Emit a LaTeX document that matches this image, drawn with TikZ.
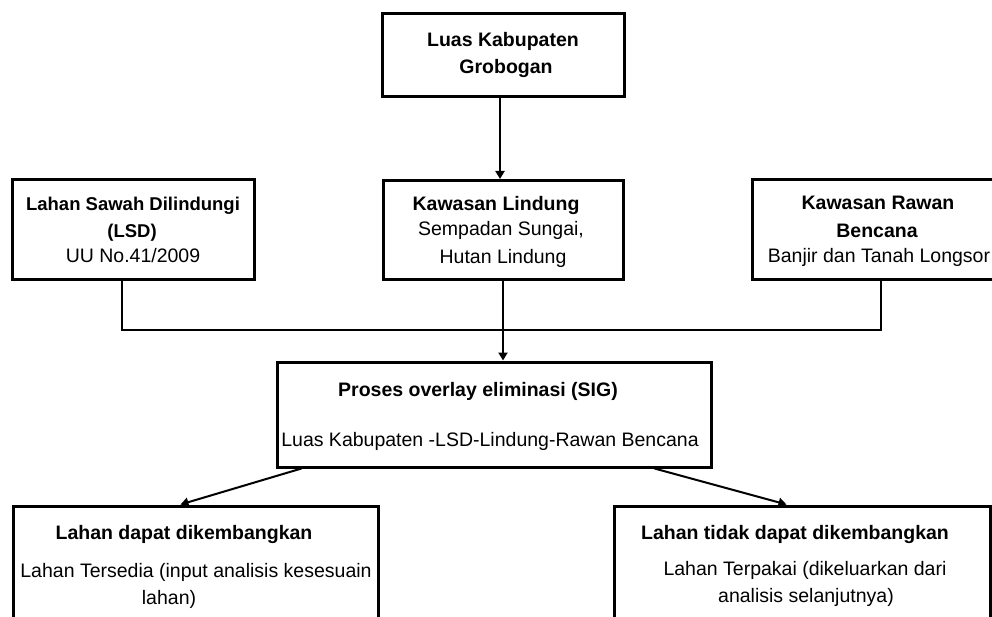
\documentclass[tikz,border=0pt]{standalone}
\usepackage{fontspec}
\setmainfont{Liberation Sans}
\usetikzlibrary{arrows.meta}
\begin{document}
\begin{tikzpicture}[x=1pt,y=-1pt,
  boxst/.style={draw=black,line width=3pt,rectangle,inner sep=0pt,fill=white},
  txt/.style={inner sep=0pt,anchor=base,font=\fontsize{19.5}{24}\selectfont},
  btxt/.style={inner sep=0pt,anchor=base,font=\fontsize{19.5}{24}\selectfont\bfseries},
  lsdtxt/.style={inner sep=0pt,anchor=base,font=\fontsize{18.5}{24}\selectfont\bfseries},
  arr/.style={line width=2pt,-{Triangle[length=8pt,width=9pt]}},
  conn/.style={line width=1.6pt}]
\useasboundingbox (0,0) rectangle (992,617);
\clip (0,0) rectangle (992,617);
\fill[white] (0,0) rectangle (992,617);
% boxes
\node[boxst,minimum width=242,minimum height=83] (top) at (503,55.5) {};
\node[boxst,minimum width=242,minimum height=100] (lsd) at (133,230) {};
\node[boxst,minimum width=240,minimum height=99] (lind) at (503,230) {};
\node[boxst,minimum width=258,minimum height=100] (rawan) at (881,230) {};
\node[boxst,minimum width=434,minimum height=105] (proses) at (494,414.5) {};
\node[boxst,minimum width=365,minimum height=134] (lb) at (195.5,573) {};
\node[boxst,minimum width=376,minimum height=134] (rb) at (802,573) {};
% texts
\node[btxt] (t1) at (503,47) {Luas Kabupaten};
\node[btxt] (t2) at (506,74) {Grobogan};
\node[lsdtxt] (s1) at (133,211) {Lahan Sawah Dilindungi};
\node[lsdtxt] (s2) at (132,238) {(LSD)};
\node[txt] (s3) at (133,263) {UU No.41/2009};
\node[btxt] (k1) at (496,211) {Kawasan Lindung};
\node[txt] (k2) at (501,236) {Sempadan Sungai,};
\node[txt] (k3) at (503,264) {Hutan Lindung};
\node[btxt] (r1) at (878,210) {Kawasan Rawan};
\node[btxt] (r2) at (877,238) {Bencana};
\node[txt] (r3) at (879,263) {Banjir dan Tanah Longsor};
\node[btxt] (p1) at (478,396) {Proses overlay eliminasi (SIG)};
\node[txt] (p2) at (490,446) {Luas Kabupaten -LSD-Lindung-Rawan Bencana};
\node[btxt] (a1) at (184,539) {Lahan dapat dikembangkan};
\node[txt] (a2) at (196,577) {Lahan Tersedia (input analisis kesesuain};
\node[txt] (a3) at (169,604) {lahan)};
\node[btxt] (b1) at (795,539) {Lahan tidak dapat dikembangkan};
\node[txt] (b2) at (805,575) {Lahan Terpakai (dikeluarkan dari};
\node[txt] (b3) at (806,602) {analisis selanjutnya)};
% connectors
\coordinate (hline) at (500,330);
\draw[arr] ([xshift=-3pt]top.south) -- ([xshift=-3pt]lind.north);
\draw[conn] ([xshift=-11pt]lsd.south) |- (hline) -| (rawan.south);
\draw[arr] (lind.south) -- (lind.south |- proses.north);
\draw[arr] ([xshift=26pt]proses.south west) -- ([xshift=169pt]lb.north west);
\draw[arr] ([xshift=-58pt]proses.south east) -- ([xshift=174pt]rb.north west);
\end{tikzpicture}
\end{document}
